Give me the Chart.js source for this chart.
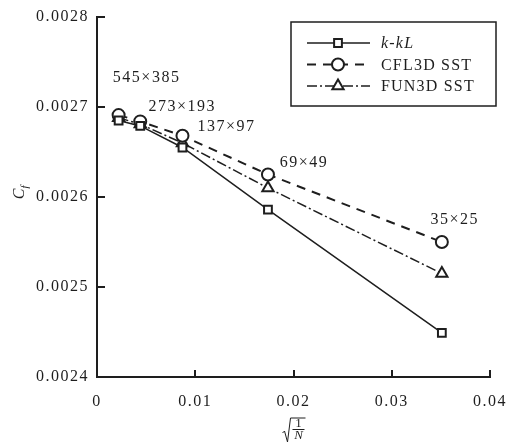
<!DOCTYPE html>
<html><head><meta charset="utf-8">
<script src="https://cdn.jsdelivr.net/npm/chart.js@4.4.0/dist/chart.umd.min.js"></script>
<style>html,body{margin:0;padding:0;background:#fff}#wrap{width:517px;height:443px}</style>
</head><body><div id="wrap"><canvas id="c"></canvas></div>
<script>
const xVals=[0.0022,0.0044,0.0087,0.0174,0.0351];
const kkL=[0.002685,0.002679,0.002655,0.002586,0.002449];
const cfl3d=[0.002691,0.002684,0.002668,0.002625,0.00255];
const fun3d=[0.002688,0.002681,0.002660,0.00261,0.002515];
const gridNames=['545×385','273×193','137×97','69×49','35×25'];
const seriesNames=['k-kL','CFL3D SST','FUN3D SST'];
const xTicks=[0,0.01,0.02,0.03,0.04];
const yTicks=[0.0024,0.0025,0.0026,0.0027,0.0028];

const SERIF='"Liberation Serif","Times New Roman",serif';
const INK='#1e1e1e';
function pts(ys){return ys.map((y,i)=>({x:xVals[i],y:y}));}

// label offsets from the CFL3D markers
const labelOff=[[28,-37],[42,-15],[44,-9],[36,-12],[13,-22]];

const spacing={
  id:'spacing',
  beforeDraw(chart){chart.ctx.letterSpacing='1.5px';}
};

const extras={
  id:'extras',
  afterDraw(chart){
    const ctx=chart.ctx, a=chart.chartArea;
    const xs=chart.scales.x, ys=chart.scales.y;
    ctx.save();
    ctx.letterSpacing='1.5px';
    // inward ticks
    ctx.strokeStyle=INK;ctx.lineWidth=2;
    xTicks.slice(1).forEach(v=>{
      const px=Math.round(xs.getPixelForValue(v));
      ctx.beginPath();ctx.moveTo(px,a.bottom);ctx.lineTo(px,a.bottom-7);ctx.stroke();
    });
    yTicks.slice(1).forEach(v=>{
      const py=Math.round(ys.getPixelForValue(v));
      ctx.beginPath();ctx.moveTo(a.left,py);ctx.lineTo(a.left+8,py);ctx.stroke();
    });
    // grid size labels
    ctx.fillStyle=INK;ctx.font='16px '+SERIF;
    ctx.textAlign='center';ctx.textBaseline='middle';
    const meta=chart.getDatasetMeta(1);
    gridNames.forEach((t,i)=>{
      const p=meta.data[i];
      ctx.fillText(t,p.x+labelOff[i][0],p.y+labelOff[i][1]);
    });
    // y title C_f
    ctx.save();
    ctx.translate(20,192);ctx.rotate(-Math.PI/2);
    ctx.letterSpacing='0px';
    ctx.font='italic 16px '+SERIF;ctx.textAlign='center';
    ctx.fillText('C',-2,0);
    ctx.font='italic 11px '+SERIF;
    ctx.fillText('f',5,5);
    ctx.restore();
    // x title sqrt(1/N)
    const cx=xs.getPixelForValue(0.02);
    ctx.letterSpacing='0px';
    ctx.lineWidth=1;
    ctx.beginPath();
    ctx.moveTo(cx-11,433);ctx.lineTo(cx-9,431);ctx.lineTo(cx-6,442);ctx.lineTo(cx-3,418);ctx.lineTo(cx+12,418);
    ctx.stroke();
    ctx.beginPath();ctx.moveTo(cx-1,429.5);ctx.lineTo(cx+11,429.5);ctx.stroke();
    ctx.font='13px '+SERIF;ctx.fillText('1',cx+5,424);
    ctx.font='italic 13px '+SERIF;ctx.fillText('N',cx+5,436);
    // legend
    ctx.letterSpacing='1.2px';
    ctx.lineWidth=1.5;ctx.strokeStyle=INK;
    ctx.strokeRect(291,22,205,84);
    const rows=[43,64.5,86];
    chart.data.datasets.forEach((ds,i)=>{
      const y=rows[i];
      ctx.save();
      ctx.strokeStyle=INK;
      ctx.lineWidth=ds.borderWidth;ctx.setLineDash(ds.borderDash||[]);
      ctx.beginPath();ctx.moveTo(307,y);ctx.lineTo(370,y);ctx.stroke();
      ctx.setLineDash([]);
      ctx.fillStyle='#fff';ctx.strokeStyle=INK;ctx.lineWidth=ds.pointBorderWidth;
      Chart.helpers.drawPoint(ctx,{pointStyle:ds.pointStyle,radius:ds.pointRadius,borderWidth:ds.pointBorderWidth},338,y);
      ctx.restore();
      ctx.fillStyle=INK;ctx.textAlign='left';
      ctx.font=(i===0?'italic ':'')+'16px '+SERIF;
      ctx.fillText(ds.label,381,y+1);
    });
    ctx.restore();
  }
};

const common={borderColor:INK,pointBorderColor:INK,pointBackgroundColor:'#fff',pointBorderWidth:2,tension:0,fill:false};
new Chart(document.getElementById('c'),{
  type:'line',
  data:{datasets:[
    Object.assign({label:seriesNames[0],data:pts(kkL),borderWidth:1.5,pointStyle:'rect',pointRadius:5.5},common),
    Object.assign({label:seriesNames[1],data:pts(cfl3d),borderWidth:2,borderDash:[9,7],pointStyle:'circle',pointRadius:6},common),
    Object.assign({label:seriesNames[2],data:pts(fun3d),borderWidth:1.5,borderDash:[10,3,2,3],pointStyle:'triangle',pointRadius:6.5},common)
  ]},
  options:{
    responsive:true,maintainAspectRatio:false,animation:false,
    layout:{padding:{top:17,right:27,left:0,bottom:0}},
    plugins:{legend:{display:false},tooltip:{enabled:false}},
    scales:{
      x:{type:'linear',min:0,max:0.04,
        afterBuildTicks:s=>{s.ticks=xTicks.map(v=>({value:v}));},
        afterFit:s=>{s.height=66;},
        grid:{display:false},border:{display:true,color:INK,width:2},
        ticks:{padding:7,color:INK,font:{family:SERIF,size:16},callback:v=>String(v)}},
      y:{type:'linear',min:0.0024,max:0.0028,
        afterBuildTicks:s=>{s.ticks=yTicks.map(v=>({value:v}));},
        afterFit:s=>{s.width=97;},
        grid:{display:false},border:{display:true,color:INK,width:2},
        ticks:{padding:0,color:INK,font:{family:SERIF,size:16},callback:v=>v.toFixed(4)}}
    }
  },
  plugins:[spacing,extras]
});
</script></body></html>
